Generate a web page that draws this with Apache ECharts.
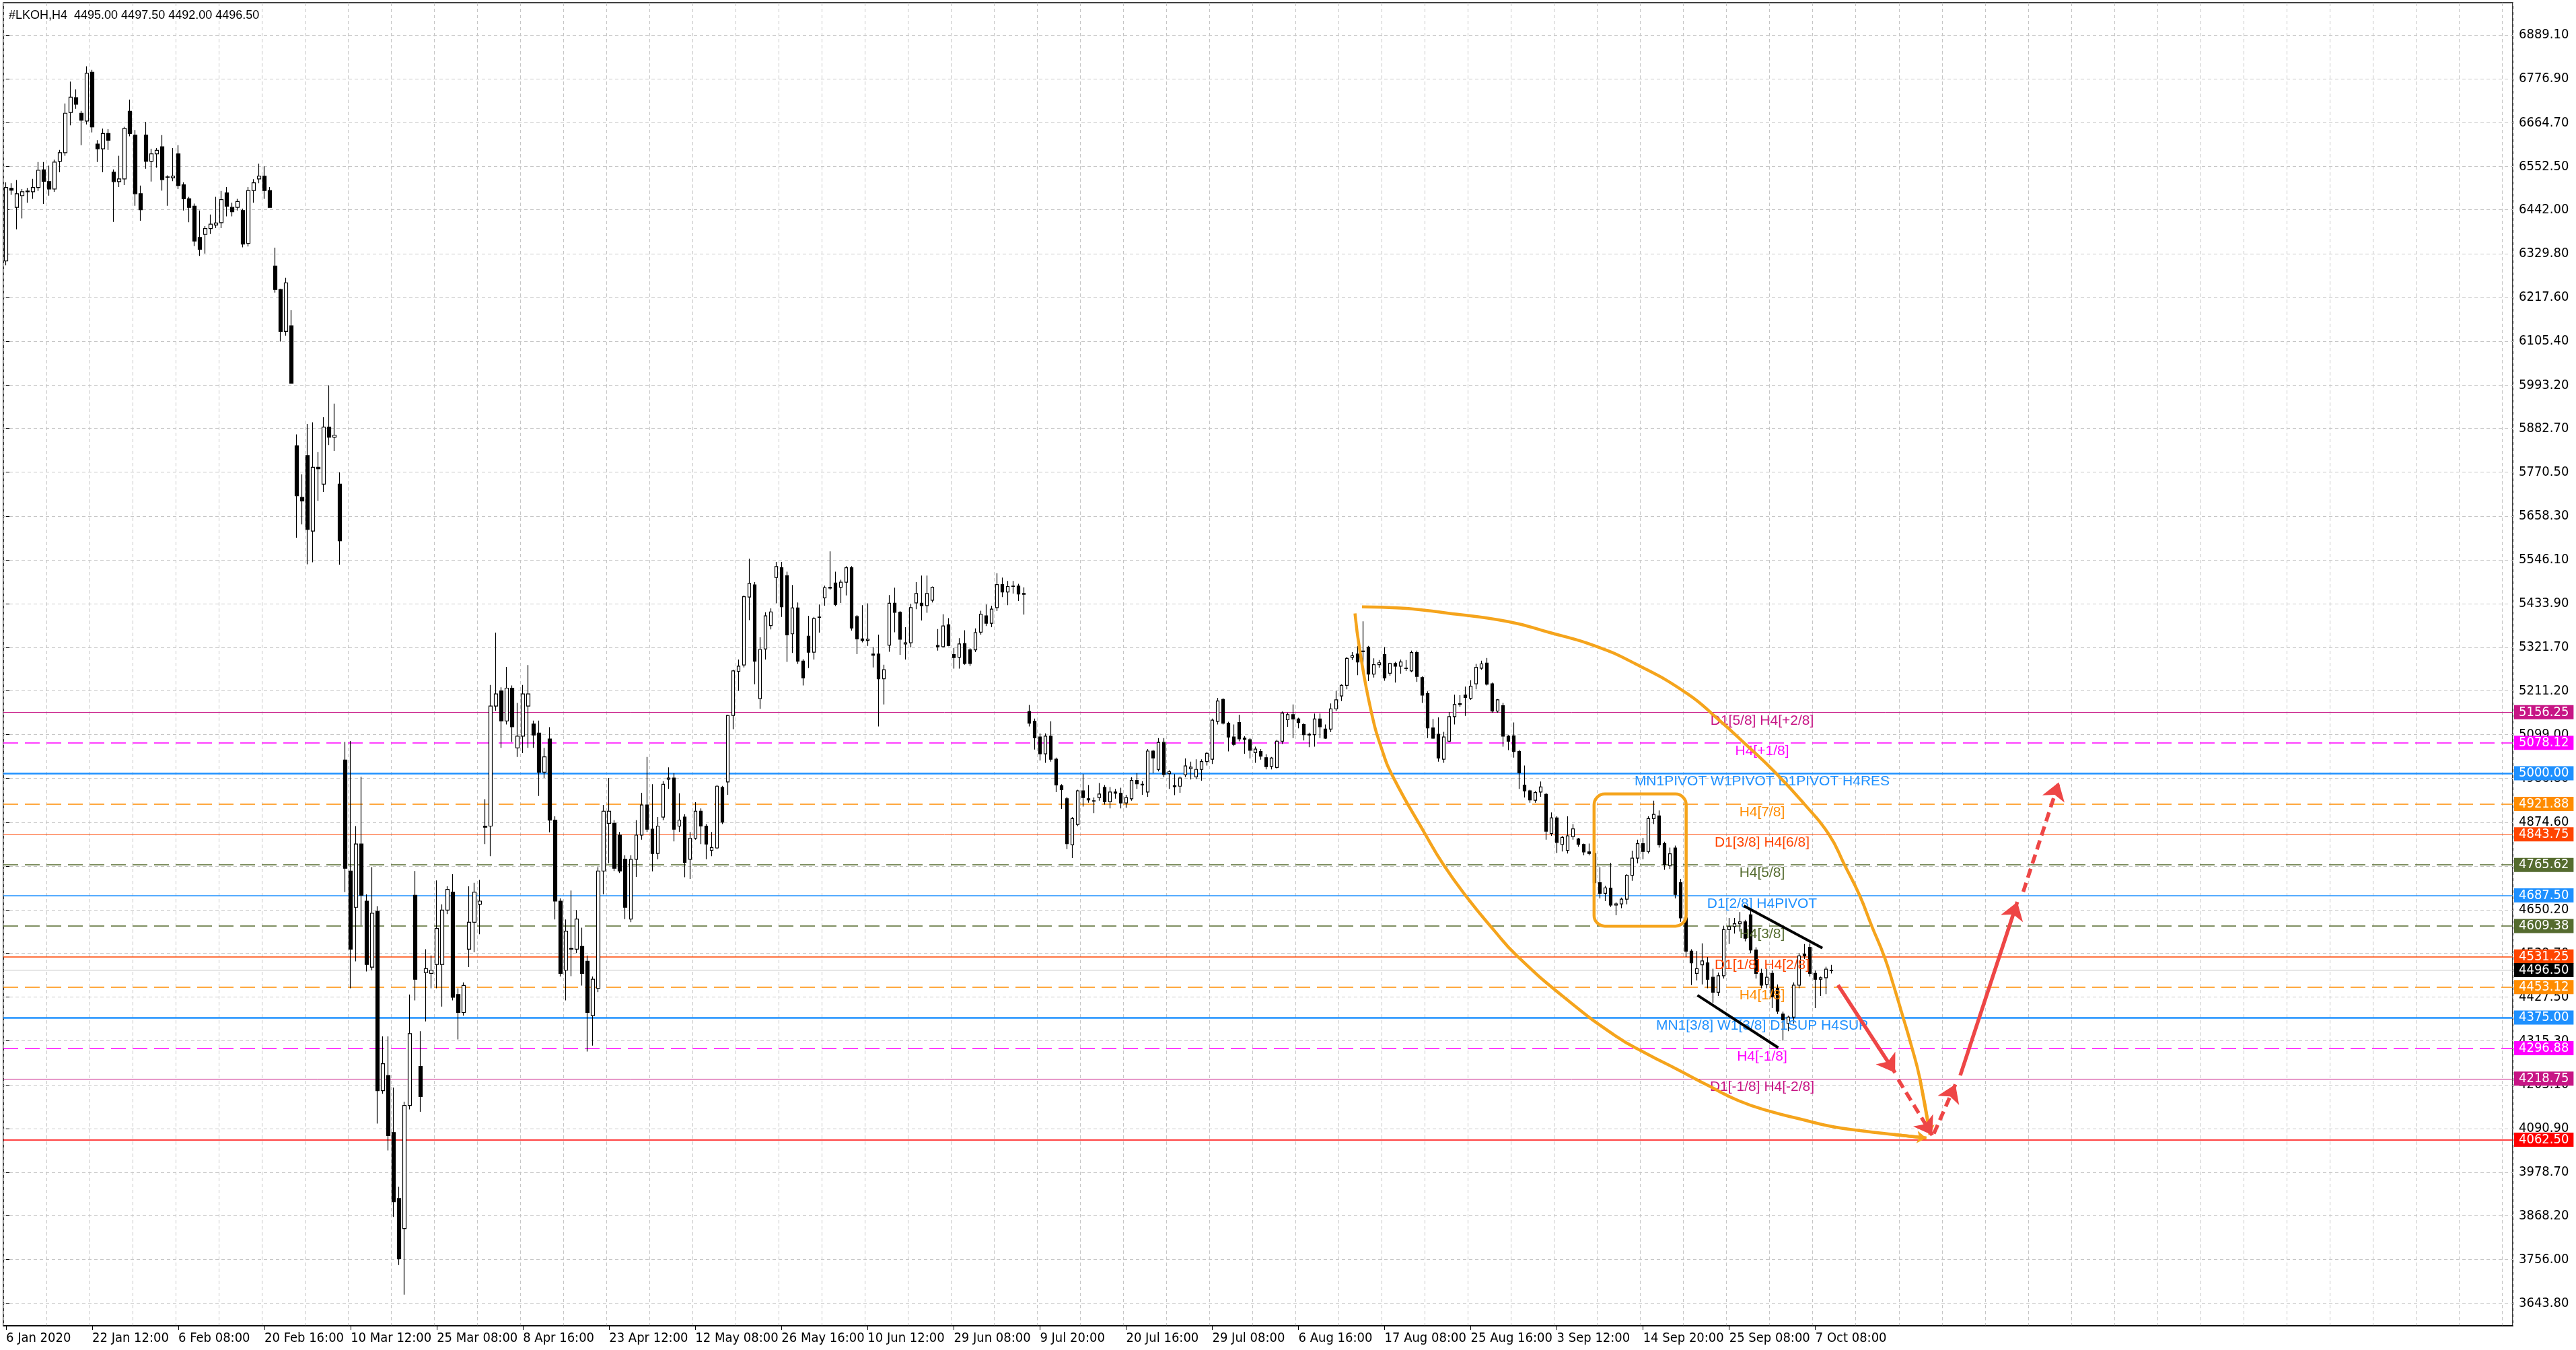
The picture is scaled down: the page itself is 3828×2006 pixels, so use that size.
<!DOCTYPE html>
<html>
<head>
<meta charset="utf-8">
<title>#LKOH,H4</title>
<script src="https://cdn.jsdelivr.net/npm/echarts@6/dist/echarts.min.js"></script>
<style>
  html, body { margin: 0; padding: 0; background: #fff; }
  #chart { width: 3828px; height: 2006px; }
</style>
</head>
<body>
<div id="chart"></div>
<script>
const chartTitle = '#LKOH,H4  4495.00 4497.50 4492.00 4496.50';

// one candle per two H4 bars: [open, close, low, high]
const ohlc = [
  [6311,6499,6300,6512],[6497,6492,6480,6510],[6448,6483,6392,6518],[6478,6488,6420,6495],[6488,6490,6460,6498],
  [6488,6499,6470,6521],[6499,6543,6490,6564],[6544,6515,6457,6564],[6514,6495,6478,6555],[6495,6564,6488,6570],
  [6566,6588,6538,6595],[6588,6689,6580,6714],[6691,6730,6658,6770],[6729,6712,6700,6750],[6689,6671,6607,6695],
  [6669,6791,6660,6809],[6794,6654,6640,6800],[6610,6598,6564,6620],[6598,6637,6538,6650],[6637,6620,6595,6648],
  [6538,6514,6411,6545],[6514,6521,6500,6580],[6521,6650,6505,6654],[6694,6637,6630,6724],[6633,6483,6452,6646],
  [6483,6442,6414,6504],[6633,6566,6547,6667],[6566,6585,6514,6598],[6585,6594,6550,6600],[6603,6519,6491,6633],
  [6526,6525,6452,6530],[6524,6528,6515,6600],[6585,6504,6495,6607],[6506,6470,6440,6512],[6470,6448,6410,6475],
  [6451,6362,6349,6458],[6371,6341,6324,6440],[6379,6394,6330,6400],[6394,6405,6380,6430],[6403,6408,6395,6475],
  [6409,6468,6395,6490],[6485,6451,6425,6500],[6448,6437,6425,6460],[6448,6463,6440,6470],[6440,6354,6346,6445],
  [6356,6491,6348,6500],[6491,6511,6460,6520],[6521,6528,6510,6560],[6528,6491,6470,6553],[6491,6448,6448,6500],
  [6298,6238,6230,6345],[6238,6131,6105,6240],[6131,6255,6120,6268],[6145,5998,5997,6185],[5838,5710,5603,5867],
  [5706,5697,5637,5765],[5813,5624,5535,5894],[5620,5783,5540,5898],[5783,5779,5697,5822],[5740,5886,5720,5911],
  [5886,5860,5840,5993],[5860,5865,5825,5946],[5740,5595,5534,5770],[5034,4757,4696,5080],[4750,4550,4450,5083],
  [4657,4819,4519,4865],[4819,4688,4611,4991],[4673,4511,4493,4690],[4504,4642,4496,4760],[4647,4188,4104,4660],
  [4188,4257,4180,4327],[4227,4073,4035,4327],[4081,3904,3865,4196],[3912,3758,3742,3942],[3835,4150,3666,4160],
  [4150,4334,4140,4434],[4688,4473,4419,4750],[4250,4173,4134,4340],[4490,4500,4365,4550],[4488,4496,4450,4534],
  [4511,4603,4450,4726],[4511,4650,4403,4665],[4650,4703,4640,4711],[4696,4427,4419,4742],[4434,4388,4319,4450],
  [4388,4457,4380,4465],[4550,4619,4504,4711],[4619,4696,4542,4720],[4665,4673,4588,4727],[4865,4862,4819,4934],
  [4865,5172,4788,5226],[5172,5203,5160,5360],[5211,5134,5065,5220],[5134,5218,5125,5272],[5218,5119,5080,5225],
  [5065,5095,5042,5180],[5095,5203,5052,5226],[5172,5203,5065,5277],[5126,5098,5065,5135],[5103,5003,4942,5135],
  [5003,5042,4988,5065],[5088,4880,4849,5118],[4880,4673,4626,4890],[4673,4488,4480,4680],[4496,4596,4419,4626],
  [4552,4550,4481,4700],[4550,4627,4540,4650],[4557,4488,4457,4605],[4519,4388,4288,4534],[4380,4473,4303,4480],
  [4450,4750,4440,4760],[4750,4903,4690,4919],[4872,4903,4770,4988],[4872,4757,4750,4880],[4842,4750,4745,4850],
  [4780,4657,4627,4790],[4627,4780,4619,4790],[4780,4842,4735,4880],[4842,4919,4830,4950],[4919,4857,4850,5042],
  [4857,4795,4749,4972],[4795,4865,4780,4888],[4888,4972,4880,4980],[4985,4988,4960,5015],[4988,4857,4826,5000],
  [4865,4880,4850,4949],[4888,4772,4734,4895],[4780,4834,4730,4850],[4834,4903,4830,4926],[4903,4865,4819,4910],
  [4865,4819,4780,4870],[4803,4810,4788,4850],[4809,4967,4806,4970],[4964,4875,4870,4968],[4978,5148,4945,5150],
  [5148,5262,5113,5265],[5261,5274,5211,5291],[5277,5452,5271,5455],[5451,5486,5392,5549],[5482,5287,5228,5489],
  [5191,5317,5165,5348],[5318,5403,5291,5412],[5378,5413,5368,5422],[5501,5529,5435,5541],[5526,5426,5400,5541],
  [5506,5354,5285,5516],[5357,5423,5308,5482],[5423,5287,5280,5437],[5287,5244,5225,5292],[5351,5310,5269,5403],
  [5310,5396,5291,5400],[5399,5400,5360,5432],[5449,5475,5429,5480],[5476,5474,5470,5568],[5487,5432,5428,5516],
  [5476,5489,5436,5495],[5489,5526,5455,5530],[5526,5372,5365,5530],[5401,5344,5305,5405],[5344,5340,5335,5430],
  [5340,5343,5326,5435],[5305,5302,5271,5323],[5305,5242,5120,5355],[5242,5265,5176,5278],[5328,5435,5311,5456],
  [5435,5412,5361,5475],[5412,5343,5303,5415],[5331,5334,5291,5374],[5334,5424,5322,5434],[5436,5460,5420,5489],
  [5435,5429,5391,5506],[5429,5460,5411,5506],[5443,5476,5437,5478],[5327,5324,5314,5369],[5324,5377,5322,5407],
  [5380,5327,5325,5397],[5304,5296,5268,5321],[5297,5331,5268,5346],[5332,5281,5278,5366],[5316,5281,5275,5320],
  [5316,5360,5310,5371],[5361,5407,5355,5416],[5403,5384,5377,5432],[5384,5420,5374,5429],[5424,5483,5415,5512],
  [5483,5464,5451,5501],[5464,5478,5430,5492],[5478,5479,5460,5492],[5479,5459,5441,5485],[5460,5458,5406,5476],
  [5158,5128,5120,5175],[5133,5091,5061,5140],[5093,5050,5033,5102],[5050,5095,5027,5102],[5095,5036,5030,5133],
  [5036,4970,4952,5040],[4968,4958,4909,4972],[4935,4820,4806,4940],[4817,4884,4783,4888],[4869,4955,4865,4958],
  [4955,4938,4915,4998],[4935,4932,4925,4970],[4929,4930,4898,4938],[4938,4947,4930,4975],[4964,4927,4920,4970],
  [4927,4952,4910,4965],[4952,4949,4935,4960],[4949,4924,4910,4963],[4924,4938,4912,4945],[4935,4982,4930,4990],
  [4982,4973,4960,5000],[4972,4970,4945,4980],[4952,5057,4940,5062],[5057,5039,5000,5060],[5010,5079,5005,5090],
  [5079,4997,4990,5090],[4999,5004,4960,5008],[4968,4966,4944,4998],[4967,4988,4950,4992],[4996,5019,4990,5038],
  [5012,5016,4984,5030],[4991,5010,4985,5036],[5010,5030,4981,5036],[5030,5051,5020,5055],[5036,5136,5024,5140],
  [5133,5185,5125,5193],[5189,5128,5125,5192],[5128,5093,5056,5132],[5093,5074,5070,5125],[5130,5088,5082,5150],
  [5090,5087,5050,5095],[5086,5059,5038,5090],[5053,5062,5027,5068],[5056,5044,5035,5062],[5040,5017,5010,5049],
  [5018,5039,5010,5042],[5015,5082,5012,5086],[5082,5154,5075,5158],[5137,5150,5119,5155],[5150,5139,5090,5176],
  [5139,5130,5115,5142],[5125,5099,5084,5128],[5100,5098,5067,5104],[5099,5139,5068,5153],[5139,5119,5090,5153],
  [5113,5090,5088,5125],[5113,5165,5105,5179],[5165,5188,5159,5211],[5198,5225,5185,5228],[5225,5294,5215,5298],
  [5297,5301,5290,5310],[5305,5285,5251,5326],[5311,5313,5280,5389],[5323,5254,5236,5326],[5254,5278,5245,5294],
  [5278,5283,5270,5290],[5304,5244,5237,5323],[5256,5281,5250,5283],[5281,5274,5232,5285],[5274,5285,5255,5291],
  [5269,5268,5262,5290],[5262,5309,5259,5314],[5309,5248,5234,5314],[5245,5200,5180,5248],[5204,5116,5090,5210],
  [5116,5090,5088,5139],[5100,5039,5030,5143],[5036,5093,5027,5106],[5082,5145,5080,5157],[5145,5176,5125,5201],
  [5178,5176,5170,5200],[5200,5194,5147,5222],[5192,5223,5188,5238],[5229,5271,5215,5280],[5269,5280,5265,5288],
  [5282,5228,5225,5295],[5229,5159,5155,5232],[5159,5188,5155,5190],[5173,5095,5068,5180],[5095,5082,5059,5098],
  [5096,5056,5040,5130],[5056,5001,4960,5060],[4970,4955,4938,5020],[4955,4932,4925,4958],[4931,4951,4925,4955],
  [4952,4965,4940,4979],[4946,4852,4830,4950],[4846,4886,4840,4900],[4886,4823,4796,4890],[4818,4836,4800,4840],
  [4803,4840,4795,4890],[4838,4858,4830,4870],[4832,4818,4812,4835],[4818,4799,4790,4820],[4799,4795,4790,4820],
  [4795,4720,4705,4800],[4720,4693,4680,4760],[4693,4707,4673,4712],[4706,4663,4658,4771],[4663,4666,4637,4670],
  [4666,4678,4655,4682],[4678,4739,4665,4742],[4739,4783,4725,4802],[4783,4820,4770,4830],[4820,4800,4780,4835],
  [4800,4884,4795,4890],[4884,4895,4870,4930],[4891,4817,4810,4905],[4820,4766,4753,4825],[4764,4794,4755,4810],
  [4809,4690,4680,4815],[4720,4630,4620,4730],[4630,4545,4530,4640],[4545,4515,4458,4550],[4488,4500,4470,4545],
  [4510,4520,4460,4565],[4515,4473,4450,4530],[4478,4440,4413,4500],[4440,4482,4430,4490],[4482,4600,4475,4610],
  [4600,4608,4563,4630],[4608,4615,4590,4630],[4615,4620,4595,4645],[4620,4578,4570,4625],[4638,4548,4540,4650],
  [4548,4488,4475,4555],[4488,4458,4450,4500],[4460,4478,4450,4500],[4488,4428,4399,4495],[4450,4391,4384,4460],
  [4384,4369,4316,4390],[4360,4376,4340,4380],[4376,4458,4360,4465],[4458,4533,4450,4540],[4537,4533,4525,4563],
  [4555,4488,4480,4565],[4488,4473,4399,4495],[4473,4477,4430,4480],[4477,4499,4435,4505],[4495,4496.5,4488,4510]
];

const barSlots = 466;      // bar positions across the window, incl. the empty shift on the right
const labelEvery = 16;
const timeLabels = ['6 Jan 2020', '22 Jan 12:00', '6 Feb 08:00', '20 Feb 16:00', '10 Mar 12:00', '25 Mar 08:00',
  '8 Apr 16:00', '23 Apr 12:00', '12 May 08:00', '26 May 16:00', '10 Jun 12:00', '29 Jun 08:00', '9 Jul 20:00',
  '20 Jul 16:00', '29 Jul 08:00', '6 Aug 16:00', '17 Aug 08:00', '25 Aug 16:00', '3 Sep 12:00', '14 Sep 20:00',
  '25 Sep 08:00', '7 Oct 08:00'];

const priceTicks = [6889.10, 6776.90, 6664.70, 6552.50, 6442.00, 6329.80, 6217.60, 6105.40, 5993.20, 5882.70,
  5770.50, 5658.30, 5546.10, 5433.90, 5321.70, 5211.20, 5099.00, 4986.80, 4874.60, 4762.40, 4650.20, 4539.70,
  4427.50, 4315.30, 4203.10, 4090.90, 3978.70, 3868.20, 3756.00, 3643.80];

// murrey / pivot levels
const levelPrices = [5156.25, 5078.12, 5000.00, 4921.88, 4843.75, 4765.62, 4687.50, 4609.38, 4531.25, 4453.12,
  4375.00, 4296.88, 4218.75, 4062.50];
const levelNames = ['D1[5/8] H4[+2/8]', 'H4[+1/8]', 'MN1PIVOT W1PIVOT D1PIVOT H4RES', 'H4[7/8]', 'D1[3/8] H4[6/8]',
  'H4[5/8]', 'D1[2/8] H4PIVOT', 'H4[3/8]', 'D1[1/8] H4[2/8]', 'H4[1/8]', 'MN1[3/8] W1[3/8] D1SUP H4SUP', 'H4[-1/8]',
  'D1[-1/8] H4[-2/8]', ''];
const levelColors = ['#C71585', '#FF00FF', '#1E90FF', '#FF8C00', '#FF4500', '#556B2F', '#1E90FF', '#556B2F',
  '#FF4500', '#FF8C00', '#1E90FF', '#FF00FF', '#C71585', '#FF0000'];
const levelDashed = [false, true, false, true, false, true, false, true, false, true, false, true, false, false];
const levelWidths = [1, 1.5, 2.5, 1.5, 1, 1.5, 1.5, 1.5, 1.5, 1.5, 2.5, 1.5, 1, 1.5];
const lastPrice = 4496.50;

// drawn objects, x in bar slots, y in price
const leftArc = [[250.5, 5409], [251.4, 5314], [253.5, 5159], [255.5, 5061], [257.6, 4990], [263.6, 4843],
  [266.8, 4769], [271.0, 4688], [276.4, 4597], [280.5, 4534], [289.5, 4425], [298.9, 4328], [304.6, 4283],
  [310.4, 4242], [316.1, 4201], [321.8, 4162], [327.6, 4135], [333.3, 4115], [339.1, 4096], [344.8, 4085],
  [350.5, 4076], [356.6, 4067]];
const rightArc = [[251.8, 5426], [258.9, 5423], [267.6, 5410], [279.0, 5388], [286.7, 5360], [295.1, 5326],
  [302.6, 5280], [312.1, 5205], [317.8, 5140], [323.0, 5075], [328.7, 5000], [333.9, 4922], [338.5, 4844],
  [341.4, 4766], [344.2, 4688], [346.5, 4608], [348.8, 4531], [350.5, 4458], [352.3, 4375], [353.7, 4309],
  [355.4, 4219], [357.3, 4075]];
const boxCorners = [294.9, 4947, 312.0, 4609];
const channelLines = [[[322.7, 4661], [337.3, 4553]], [[314.1, 4432], [329.1, 4298]]];
const arrowFrom = [[340.2, 4458], [351.4, 4216], [358.0, 4078], [362.9, 4227], [374.6, 4697]];
const arrowTo = [[350.8, 4234], [357.7, 4074], [362.0, 4204], [373.5, 4671], [381.2, 4977]];
const arrowDashed = [false, true, true, false, true];
const textSlot = 326.1;

const orange = '#F5A41C';
const arrowRed = '#EE4646';
const axisFont = "'Liberation Sans Narrow', 'DejaVu Sans Condensed', 'Liberation Sans', sans-serif";
const textFont = "'Liberation Sans', Arial, sans-serif";
const gridLine = { color: '#C6C6C6', type: [5, 4], width: 1 };

const chart = echarts.init(document.getElementById('chart'));

const categories = Array.from({ length: barSlots }, (_, i) => String(i));
const showTime = (i) => i % labelEvery === 0 && i / labelEvery < timeLabels.length;

const levelMarks = levelPrices.map((p, i) => ({
  yAxis: p,
  lineStyle: { color: levelColors[i], type: levelDashed[i] ? [22, 10] : 'solid', width: levelWidths[i] },
  label: { backgroundColor: levelColors[i] }
}));
levelMarks.push({
  yAxis: lastPrice,
  lineStyle: { color: '#C0C0C0', type: 'solid', width: 1.2 },
  label: { backgroundColor: '#000' }
});

const levelTexts = levelNames.map((name, i) => ({
  name: name,
  value: [textSlot, levelPrices[i]],
  label: { color: levelColors[i] }
})).filter(d => d.name);

const option = {
  animation: false,
  backgroundColor: '#fff',
  title: {
    text: chartTitle,
    left: 8,
    top: 9,
    textStyle: { fontFamily: textFont, fontSize: 18, fontWeight: 'normal', color: '#000' }
  },
  grid: {
    left: 5, right: 94, top: 4, bottom: 36,
    show: true, borderColor: '#000', borderWidth: 1.5, backgroundColor: '#fff'
  },
  xAxis: [{
    type: 'category',
    data: categories,
    boundaryGap: true,
    axisLine: { show: true, lineStyle: { color: '#000', width: 1.5 } },
    axisTick: { show: true, alignWithLabel: true, interval: showTime, length: 6, lineStyle: { color: '#000' } },
    axisLabel: {
      interval: showTime,
      formatter: (v, i) => timeLabels[i / labelEvery] || '',
      align: 'left',
      margin: 9,
      color: '#000',
      fontFamily: axisFont,
      fontSize: 20
    },
    splitLine: { show: true, interval: 7, lineStyle: gridLine }
  }, {
    type: 'value',
    min: -0.5,
    max: barSlots - 0.5,
    show: false
  }],
  yAxis: {
    type: 'value',
    position: 'right',
    min: 3586.4,
    max: 6971.8,
    scale: true,
    axisLine: { show: false },
    axisTick: { show: true, length: 5, customValues: priceTicks, lineStyle: { color: '#000' } },
    axisLabel: {
      customValues: priceTicks,
      formatter: (v) => v.toFixed(2),
      margin: 9,
      color: '#000',
      fontFamily: axisFont,
      fontSize: 20
    },
    splitLine: { show: true, lineStyle: gridLine }
  },
  series: [
    {
      type: 'candlestick',
      data: ohlc,
      barWidth: 5,
      z: 3,
      itemStyle: { color: '#fff', color0: '#000', borderColor: '#000', borderColor0: '#000', borderWidth: 1.2 },
      markLine: {
        silent: true,
        symbol: ['none', 'none'],
        z: 2,
        label: {
          show: true,
          position: 'end',
          distance: 2,
          color: '#fff',
          fontFamily: axisFont,
          fontSize: 20,
          padding: [1, 7, 0, 7],
          formatter: (p) => Number(p.value).toFixed(2)
        },
        data: levelMarks
      }
    },
    {
      type: 'scatter',
      xAxisIndex: 1,
      symbolSize: 2,
      itemStyle: { color: 'rgba(0,0,0,0)' },
      silent: true,
      z: 4,
      label: {
        show: true,
        position: 'bottom',
        distance: 1,
        opacity: 1,
        textBorderWidth: 0,
        formatter: '{b}',
        fontFamily: textFont,
        fontSize: 21
      },
      data: levelTexts
    },
    {
      type: 'line',
      xAxisIndex: 1,
      data: leftArc,
      smooth: 0.5,
      symbol: 'none',
      silent: true,
      z: 5,
      lineStyle: { color: orange, width: 4.5 }
    },
    {
      type: 'line',
      xAxisIndex: 1,
      data: rightArc,
      smooth: 0.5,
      symbol: 'none',
      silent: true,
      z: 5,
      lineStyle: { color: orange, width: 4.5 }
    },
    {
      type: 'custom',
      xAxisIndex: 1,
      silent: true,
      z: 5,
      data: [boxCorners],
      encode: { x: [0, 2], y: [1, 3] },
      renderItem: (params, api) => {
        const a = api.coord([api.value(0), api.value(1)]);
        const b = api.coord([api.value(2), api.value(3)]);
        return {
          type: 'rect',
          shape: { x: a[0], y: a[1], width: b[0] - a[0], height: b[1] - a[1], r: 16 },
          style: { fill: 'none', stroke: orange, lineWidth: 4.5 }
        };
      }
    },
    {
      type: 'lines',
      coordinateSystem: 'cartesian2d',
      xAxisIndex: 1,
      silent: true,
      z: 6,
      symbol: ['none', 'arrow'],
      symbolSize: 14,
      lineStyle: { color: orange, width: 4.5, opacity: 1 },
      data: [leftArc, rightArc].map(arc => ({ coords: arc.slice(-2) }))
    },
    {
      type: 'lines',
      coordinateSystem: 'cartesian2d',
      xAxisIndex: 1,
      silent: true,
      z: 6,
      lineStyle: { color: '#000', width: 4, opacity: 1 },
      data: channelLines.map(c => ({ coords: c }))
    },
    {
      type: 'lines',
      coordinateSystem: 'cartesian2d',
      xAxisIndex: 1,
      silent: true,
      z: 7,
      symbol: ['none', 'arrow'],
      symbolSize: 26,
      lineStyle: { color: arrowRed, width: 5.5, opacity: 1 },
      data: arrowFrom.map((from, i) => ({
        coords: [from, arrowTo[i]],
        lineStyle: { type: arrowDashed[i] ? [14, 8] : 'solid' }
      }))
    }
  ]
};

chart.setOption(option);
</script>
</body>
</html>
